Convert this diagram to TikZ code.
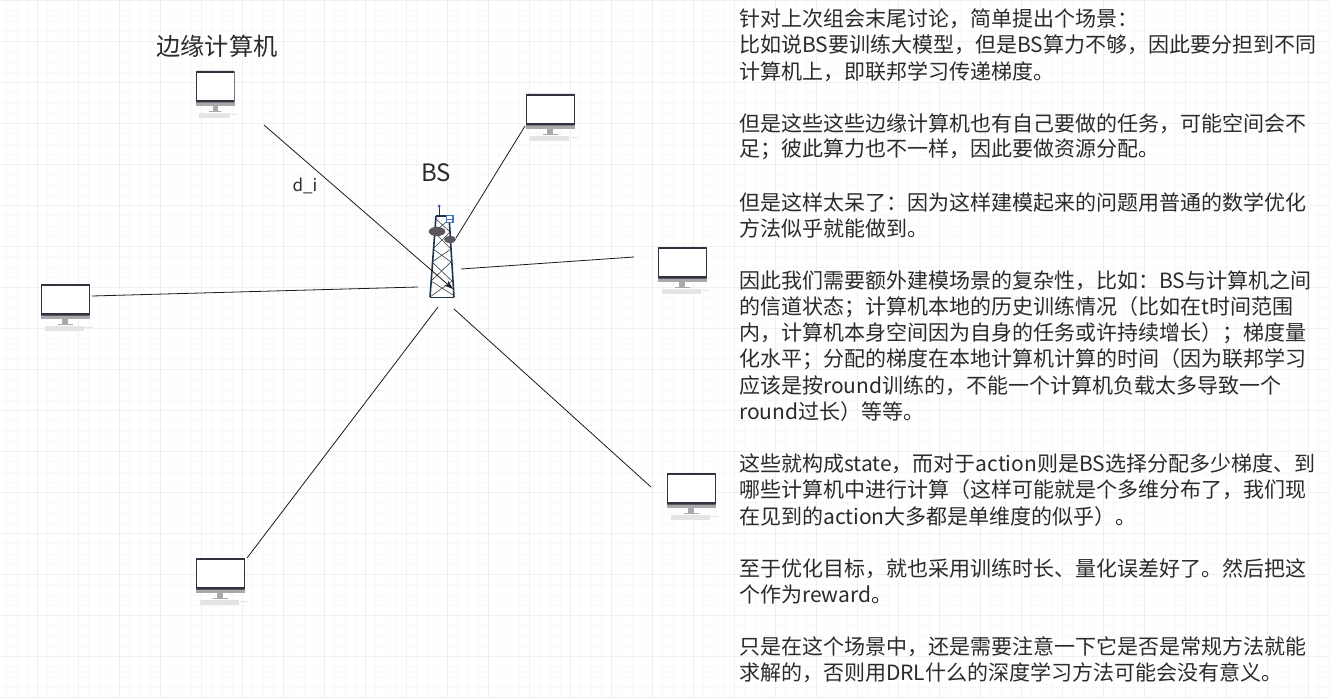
\documentclass[tikz,border=0pt]{standalone}
\usetikzlibrary{arrows.meta}
\usepackage{fontspec}
\setmainfont{Noto Sans CJK SC}
\setsansfont{Noto Sans CJK SC}
\definecolor{gridc}{HTML}{F9F9F9}
\definecolor{gridm}{HTML}{F0F0F0}
\definecolor{frame}{HTML}{2F3340}
\definecolor{pcgrey}{HTML}{A9A9AB}
\definecolor{kbd}{HTML}{E4E4E4}
\definecolor{tower}{HTML}{1F3448}
\definecolor{lattice}{HTML}{3A3F48}
\definecolor{dish}{HTML}{5A565C}
\definecolor{lnk}{HTML}{1A1A1A}
\definecolor{txt}{HTML}{2B2B2B}
\definecolor{boxblue}{HTML}{4673BE}
\tikzset{
  link/.style={draw=lnk,line width=0.8pt},
  body/.style={anchor=west,inner sep=0pt,font=\fontsize{21}{26}\selectfont,text=txt},
  label/.style={inner sep=0pt,font=\fontsize{24.2}{30}\selectfont,text=txt},
  pc/.pic={
    \fill[kbd] (3,42) rectangle (34,47);
    \fill[kbd] (35,42.6) rectangle (41,44);
    \fill[pcgrey] (16.5,35) rectangle (21.5,40);
    \fill[pcgrey] (13,40) rectangle (25,41);
    \fill[pcgrey] (0,31) rectangle (38.5,35);
    \fill[frame,rounded corners=0.6pt] (0,0) rectangle (38.5,31.5);
    \fill[white] (1,2.3) rectangle (37.5,29);
  }
}
\newcommand{\bodyline}[2]{\node[body] (t#1) at (739,{19+26.16*(#1-1)}) {#2};}
\begin{document}
\begin{tikzpicture}[x=1pt,y=-1pt]
\useasboundingbox (0,0) rectangle (1330,698);
\fill[white] (0,0) rectangle (1330,698);
\foreach \k in {0,...,132} \draw[gridc,line width=1pt] ({-3.3+10.25*\k},0) -- ({-3.3+10.25*\k},698);
\foreach \k in {0,...,69} \draw[gridc,line width=1pt] (0,{0.7+10.25*\k}) -- (1330,{0.7+10.25*\k});
\foreach \k in {0,...,32} \draw[gridm,line width=1pt] ({37.7+41*\k},0) -- ({37.7+41*\k},698);
\foreach \k in {0,...,17} \draw[gridm,line width=1pt] (0,{0.7+41*\k}) -- (1330,{0.7+41*\k});
% computers
\pic (pcA) at (196,71) {pc};
\pic[xscale=1.27] (pcB) at (526,94) {pc};
\pic[xscale=1.27] (pcC) at (658,247) {pc};
\pic[xscale=1.27] (pcD) at (41,284) {pc};
\pic[xscale=1.27] (pcE) at (667,473) {pc};
\pic[xscale=1.27] (pcF) at (196,558) {pc};
% tower
\draw[lattice,line width=0.6pt] (436,219) -- (450,232) -- (433,249) -- (451,262) -- (431,281) -- (453,295);
\draw[lattice,line width=0.6pt] (450,219) -- (434,232) -- (451,249) -- (432,262) -- (452,281) -- (430,297);
\draw[tower,line width=1.6pt] (436,216) -- (430,297);
\draw[tower,line width=1.6pt] (449,216) -- (454,297);
\draw[tower,line width=1.2pt] (436,216) -- (449,216);
\draw[tower,line width=1pt] (430,297) -- (454,297);
\draw[tower,line width=0.7pt] (439,216) -- (439,206);
\fill[boxblue!80!black] (439,206) circle (1.5pt);
\draw[draw=boxblue,fill=white,line width=1.2pt] (446.5,215.5) rectangle (453,222.5);
\draw[draw=boxblue,line width=0.8pt] (446.5,219) -- (453,219);
\fill[dish] (437,231.5) ellipse (8.3pt and 4.6pt);
\fill[dish] (450,239.5) ellipse (6pt and 3.5pt);
% connectors
\coordinate (a1) at (264,125); \coordinate (a2) at (453,289);
\coordinate (b1) at (525,126); \coordinate (b2) at (456,238);
\coordinate (c1) at (634,257); \coordinate (c2) at (461,269);
\coordinate (d1) at (92,296);  \coordinate (d2) at (418,287);
\coordinate (e1) at (651,487); \coordinate (e2) at (454,309);
\coordinate (f1) at (247,558); \coordinate (f2) at (438,307);
\draw[link,-{Stealth[length=9pt,width=6pt]}] (a1) -- (a2);
\draw[link] (b1) -- (b2);
\draw[link] (c1) -- (c2);
\draw[link] (d1) -- (d2);
\draw[link] (e1) -- (e2);
\draw[link] (f1) -- (f2);
% labels
\node[label] (lbl) at (217,46) {边缘计算机};
\node[label,font=\fontsize{24}{28}\selectfont] (bs) at (436,173) {BS};
\node[inner sep=0pt,font=\fontsize{17}{20}\selectfont,text=txt] (di) at (305,186) {d\_i};
% text
\bodyline{1}{针对上次组会末尾讨论，简单提出个场景：}
\bodyline{2}{比如说BS要训练大模型，但是BS算力不够，因此要分担到不同}
\bodyline{3}{计算机上，即联邦学习传递梯度。}
\bodyline{5}{但是这些这些边缘计算机也有自己要做的任务，可能空间会不}
\bodyline{6}{足；彼此算力也不一样，因此要做资源分配。}
\bodyline{8}{但是这样太呆了：因为这样建模起来的问题用普通的数学优化}
\bodyline{9}{方法似乎就能做到。}
\bodyline{11}{因此我们需要额外建模场景的复杂性，比如：BS与计算机之间}
\bodyline{12}{的信道状态；计算机本地的历史训练情况（比如在t时间范围}
\bodyline{13}{内，计算机本身空间因为自身的任务或许持续增长）；梯度量}
\bodyline{14}{化水平；分配的梯度在本地计算机计算的时间（因为联邦学习}
\bodyline{15}{应该是按round训练的，不能一个计算机负载太多导致一个}
\bodyline{16}{round过长）等等。}
\bodyline{18}{这些就构成state，而对于action则是BS选择分配多少梯度、到}
\bodyline{19}{哪些计算机中进行计算（这样可能就是个多维分布了，我们现}
\bodyline{20}{在见到的action大多都是单维度的似乎）。}
\bodyline{22}{至于优化目标，就也采用训练时长、量化误差好了。然后把这}
\bodyline{23}{个作为reward。}
\bodyline{25}{只是在这个场景中，还是需要注意一下它是否是常规方法就能}
\bodyline{26}{求解的，否则用DRL什么的深度学习方法可能会没有意义。}
\end{tikzpicture}
\end{document}
